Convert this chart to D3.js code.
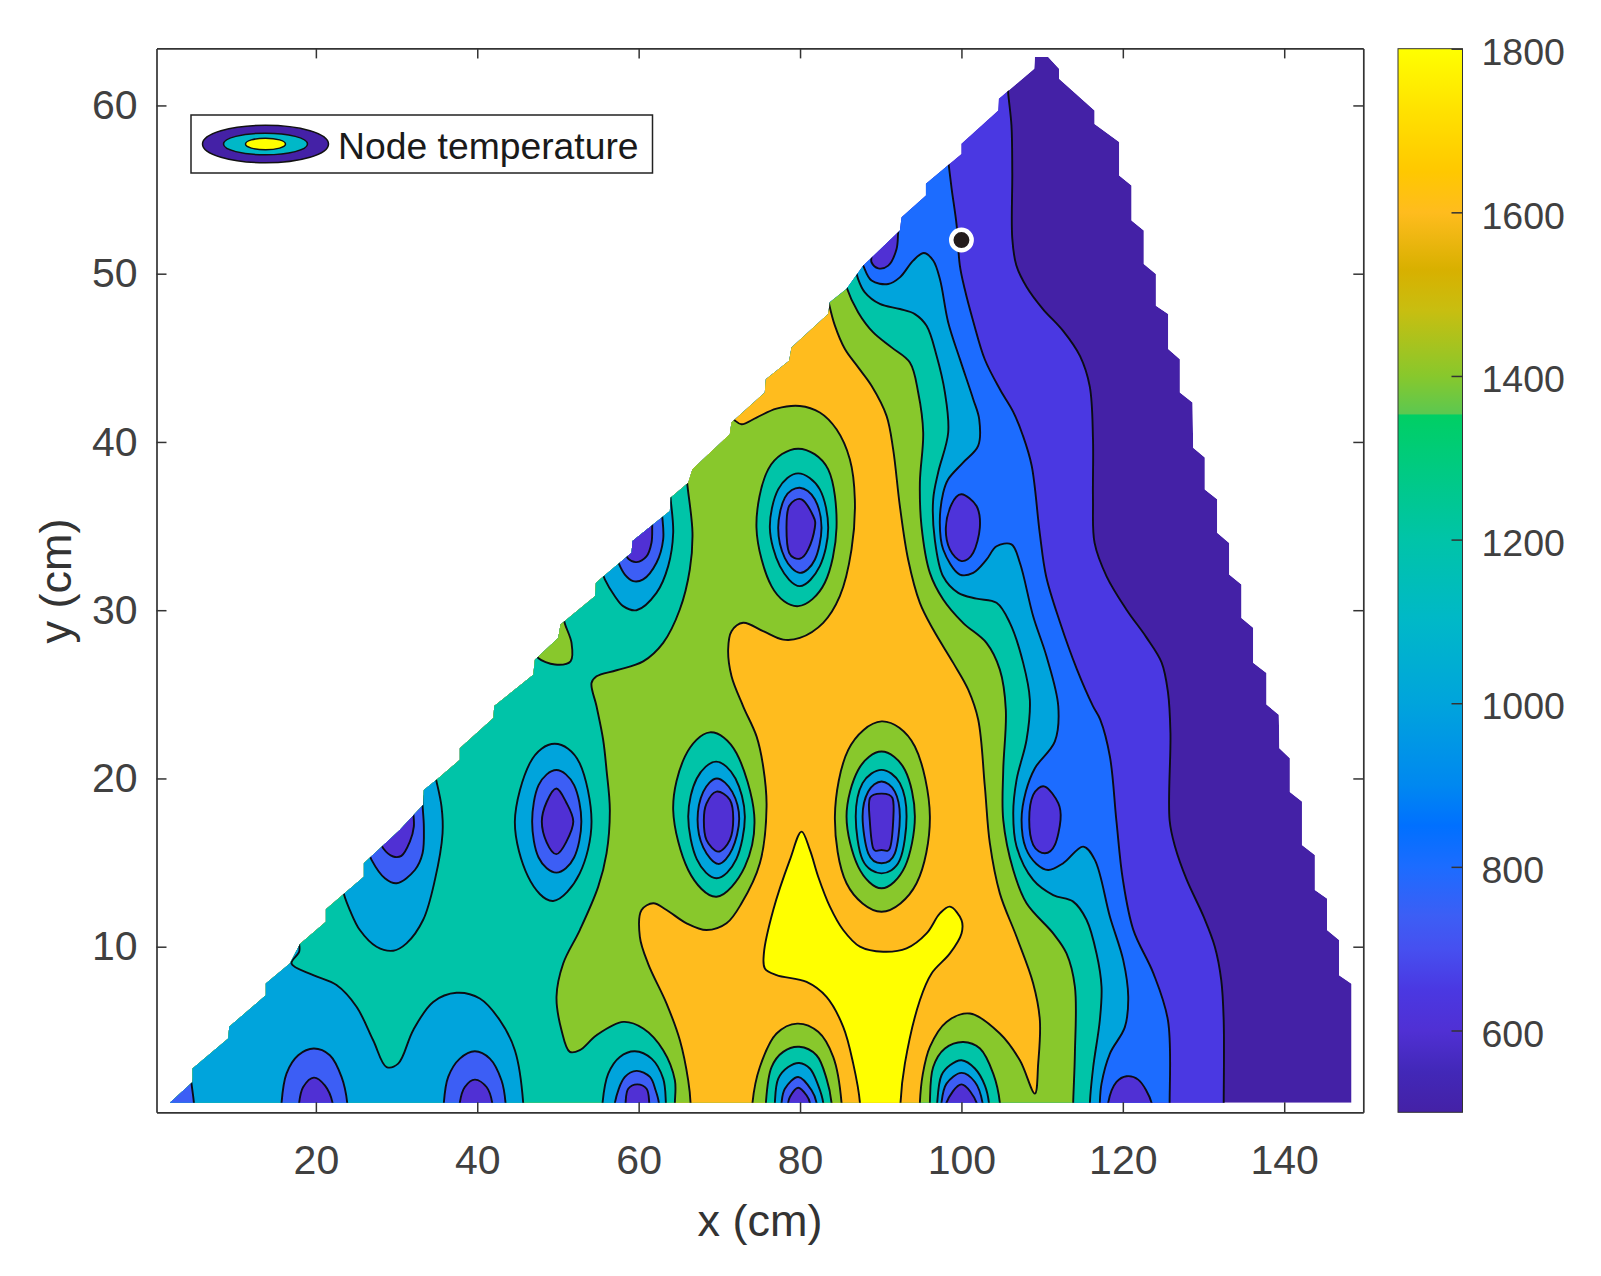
<!doctype html>
<html lang="en">
    <head>
        <title>Node temperature</title>
        <meta charset="utf-8">
        <style>
            body { margin: 0; background: #fff; }
            text { font-family: "Liberation Sans", Arial, sans-serif; }
        </style>
    </head>
    <body>
        <svg></svg>
        <script src="https://d3js.org/d3.v7.min.js"></script>
        <script>
            //Tick labels
            var xTicks = [20, 40, 60, 80, 100, 120, 140];
            var yTicks = [10, 20, 30, 40, 50, 60];
            var barTicks = [600, 800, 1000, 1200, 1400, 1600, 1800];

            //Colour bar, temperature -> colour
            var barTemps = [500, 550, 600, 650, 700, 740, 800, 850, 900, 1000, 1100, 1200, 1352, 1354, 1400, 1480, 1530, 1600, 1650, 1720, 1800];
            var barColors = ["#4421a6", "#4228b8", "#5030d4", "#4a38e2", "#4650f0", "#3c5ef5", "#1c6cff", "#0070ff", "#0088f0", "#00a4dc", "#00b8c8", "#00c4a8", "#00cf64", "#5cc850", "#88c82c", "#c8be10", "#d8b000", "#ffbc1e", "#ffc800", "#ffe000", "#ffff00"];

            //Outline of the meshed area in cm (stair steps of the mesh)
            var meshOutline = [[1.91,0.73],[4.72,1.96],[4.72,2.76],[9.14,4.54],[9.26,5.24],[13.8,7.12],[13.8,7.82],[16.78,9],[18.02,10.16],[21.24,11.49],[21.24,12.22],[25.95,14.16],[25.95,14.96],[30.4,16.94],[33.3,18.43],[33.38,19.32],[34.95,19.92],[37.84,21.11],[37.84,21.8],[42,23.6],[42.1,24.3],[46.94,26.17],[47.14,27.06],[50.03,28.35],[50.32,29.15],[54.58,30.83],[54.7,31.63],[59.12,33.41],[59.24,34.11],[63.87,35.89],[63.95,36.69],[66.14,37.58],[66.67,38.37],[71.3,40.46],[71.5,41.15],[75.63,42.94],[75.76,43.73],[78.65,44.82],[78.94,45.62],[83.48,47.6],[83.69,48.3],[85.75,49.09],[87.83,50.48],[92.37,52.56],[92.58,53.36],[95.6,54.65],[95.6,55.34],[100,57.12],[100,57.72],[104.56,59.7],[104.64,60.4],[109.02,62.18],[109.1,62.88],[110.75,62.88],[112.1,62.18],[112.1,61.59],[116.5,59.7],[116.5,58.9],[119.55,57.82],[119.55,55.84],[121.08,55.24],[121.08,53.16],[122.6,52.56],[122.6,50.58],[124.1,49.98],[124.1,48.1],[125.62,47.6],[125.62,45.52],[127.07,44.92],[127.07,42.94],[128.64,42.34],[128.72,39.66],[130.16,39.07],[130.16,37.18],[131.69,36.59],[131.69,34.6],[133.18,34],[133.18,32.12],[134.7,31.53],[134.7,29.54],[136.15,28.95],[136.15,26.87],[137.8,26.27],[137.8,24.39],[139.33,23.79],[139.4,21.8],[140.7,21.2],[140.7,19.2],[142.2,18.63],[142.2,16.05],[143.8,15.45],[143.8,13.37],[145.3,12.87],[145.3,10.99],[146.8,10.4],[146.8,8.31],[148.34,7.8],[148.34,0.73]];

            var line500 = [[105.7,61.5],[105.8,60.7],[106.2,58.8],[106.3,56],[106.3,52.1],[106.8,50.5],[108.1,49.2],[110.1,47.9],[112.6,46.6],[114.7,45.1],[115.9,43.3],[116.3,40.2],[116.3,36.6],[116.5,34],[118,32],[120.5,30],[122.9,28.4],[124.8,26.9],[125.6,25.1],[125.9,22.7],[125.8,17.5],[126.5,15.9],[127.9,14],[130,11.8],[131.4,10],[132.2,8],[132.5,5.6],[132.5,0.7],[132.5,0]];
            var line800 = [[98.3,57],[98.44,56.4],[98.8,55],[99.4,52.9],[99.8,50.5],[100.4,49.1],[101.5,47.1],[102.9,44.9],[104.8,43.1],[106.4,41.8],[107.6,40.4],[108.7,38.6],[109.7,34.6],[110.5,32],[112.2,29.3],[114.3,26.5],[116.3,24.3],[117.2,23.5],[118.4,21.3],[119.2,17.5],[120,14],[121.3,11],[123.8,8.4],[125.6,5.6],[125.8,0.7],[125.8,0]];
            var line1000 = [[87.4,51],[87.83,50.48],[88.86,49.59],[90.93,49.39],[92.37,49.78],[94.02,50.78],[95.35,51.23],[96.5,50.78],[97.33,49.68],[98.36,47.1],[99.81,44.92],[101.46,42.54],[102.2,41.35],[102.07,39.76],[100.2,38.77],[98.36,37.78],[97.74,36.98],[97.32,35.2],[97.74,33.61],[99.8,32.12],[101.46,32.22],[103.1,33],[104.35,33.8],[106.2,33.91],[107.24,32.82],[108.89,29.64],[110.54,27.26],[112,24.29],[111.58,22.2],[109.1,20.61],[107.98,19.22],[107.45,17.54],[107.98,15.85],[109.3,14.92],[110.75,14.56],[112.61,14.96],[115.09,15.95],[116.53,15.16],[118.4,11.78],[120.05,9.2],[120.67,7.02],[120.25,5.22],[118.4,3.65],[117.36,1.86],[117.15,0.73],[117.15,0]];
            var line1200 = [[86.8,50.5],[87.2,49.68],[88.03,48.89],[89.89,48.2],[92.37,47.9],[94.23,47.6],[95.68,46.9],[96.92,45.12],[97.95,42.94],[98.36,40.56],[97.12,38.2],[96.5,36.59],[96.7,34.2],[97.74,32],[99.6,31.03],[101.87,30.69],[104.35,30.44],[106,29.25],[107.65,26.87],[108.48,24.68],[108.07,22.3],[106.83,19.92],[106.42,17.93],[106.83,15.95],[108.89,13.97],[111.37,13.07],[113.85,12.68],[115.5,11.6],[116.74,9.6],[117.36,7.62],[117.15,5.63],[116.33,2.85],[115.92,0.73],[115.92,0]];
            var line1400 = [[85.4,50],[85.76,49.19],[87.21,47.7],[89.07,46.51],[91.34,45.62],[93.61,44.72],[94.64,42.94],[95.26,40.56],[94.85,37.58],[95.05,35],[96.09,32.22],[97.74,30.64],[100.2,29.25],[103.1,28.06],[104.76,26.47],[105.5,24.09],[105.18,20.5],[105.18,17.54],[106.42,14.56],[108.07,12.58],[111.37,10.79],[113.02,9.6],[114.06,7.62],[114.06,3.65],[113.85,0.73],[113.85,0]];
            var line1600 = [[83.3,49],[83.6,48.2],[84.32,46.91],[85.56,45.52],[87.21,44.43],[88.86,43.34],[90.72,41.55],[91.54,39.56],[92.37,36.19],[93.4,33],[94.85,30.44],[96.5,28.85],[98.98,26.87],[100.84,25.28],[102.08,23.49],[102.9,19.52],[103.52,16.15],[104.76,13.17],[106.83,10.59],[108.89,7.82],[109.72,5.63],[109.51,3.05],[109.1,1.27],[107.24,3.25],[104.76,4.84],[101.05,6.03],[98.15,5.53],[96.09,4.05],[95.2,2.4],[94.85,0.73],[94.85,0]];
            var line1800 = [[87.42,0],[87.42,0.73],[86.59,3.05],[85.35,5.24],[83.28,7.02],[80.81,7.91],[77.09,8.31],[75.64,8.71],[75.52,9.6],[76.68,12.18],[78.74,15.16],[80.19,16.84],[81.22,15.75],[82.25,14.16],[83.7,12.38],[85.35,10.99],[87.42,10],[90.3,9.7],[93.2,9.9],[95.68,10.79],[97.33,11.98],[98.57,12.38],[100.01,11.58],[100.01,10.79],[98.57,9.6],[96.3,8.41],[94.85,6.82],[92.99,3.05],[92.45,0.73],[92.45,0]];
            var westGreen = [[71.2,41.6],[71.84,41.31],[72.75,41.05],[74.61,41.45],[77.08,41.98],[79.97,42.14],[82.45,41.75],[84.52,40.75],[86.17,38.97],[86.79,36.59],[86.38,33.61],[84.93,30.83],[82.87,29.25],[79.97,28.35],[77.91,28.25],[75.43,28.75],[72.95,29.25],[71.51,28.75],[71.09,27.66],[71.51,26.07],[72.95,24.29],[74.61,22.5],[75.43,20.71],[75.85,18.33],[75.02,14.96],[72.75,12.58],[70.89,11.39],[68.41,10.99],[65.94,11.39],[63.46,12.18],[61.81,12.58],[60.36,12.18],[60.15,10.59],[61.19,8.97],[63.46,6.62],[65.11,4.44],[66.14,2.06],[66.43,0.73],[66.43,0]];
            var westTeal = [[65.9,38.5],[66.01,37.58],[66.67,34.6],[66.34,32.42],[65.1,30.04],[63.04,28.06],[60.56,26.96],[57.26,26.43],[54.78,26.07],[54.16,25.67],[54.78,24.29],[55.6,22.3],[56.02,20.5],[56.43,18.13],[56.02,15.55],[54.99,13.57],[52.71,10.99],[50.65,9],[49.82,7.02],[50.44,5.04],[51.47,3.75],[52.71,3.85],[54.78,4.74],[58.09,5.53],[60.57,5.14],[63.04,3.85],[64.49,2.06],[64.49,0.73],[64.49,0]];
            var westBlue = [[17.7,10.8],[17.93,10.16],[17.93,9.7],[16.98,9],[19.67,8.31],[22.56,7.72],[25.04,6.43],[27.1,4.44],[28.76,2.85],[30.2,3.05],[32.06,5.04],[34.54,6.72],[37.43,7.26],[40.32,6.92],[42.8,5.63],[44.66,3.85],[45.69,0.73],[45.69,0]];
            var cornerTip = [[4.5,2.4],[4.59,1.86],[4.88,0.73],[4.88,0]];
            var edgeGreen = [[50.6,29.8],[50.85,29.21],[51.68,28.06],[51.56,26.96],[49.62,26.77],[47.55,27.16],[47.2,27.5]];

            //Dips cut by the slanted edge
            var dip30a = [[34.6,20.5],[34.95,19.82],[35.57,18.33],[35.7,16.74],[34.75,13.97],[33.3,11.6],[31.23,10.2],[29.58,9.76],[27.52,10],[25.45,10.99],[24.21,12.18],[23.47,13.13],[23.2,13.8]];
            var dip30b = [[33.2,19],[33.22,18.43],[33.38,17.14],[33.22,15.55],[32.27,14.56],[30,13.77],[28.55,14.07],[26.9,15.16],[26.4,15.8]];
            var dip30c = [[32,18.6],[32.06,18.03],[32.14,17.14],[31.65,16.25],[30.6,15.4],[29.58,15.36],[28.34,15.85],[27.8,16.5]];
            var dip60a = [[63.9,37.2],[63.95,36.69],[64.28,34.6],[63.66,32.62],[62.21,31.03],[59.74,30],[58.08,30.24],[57.05,30.83],[55.81,31.83],[55.4,32.4]];
            var dip60b = [[62.8,36.2],[62.92,35.6],[63.04,34.21],[62.21,32.82],[60.56,31.83],[59.32,31.73],[58.29,32.12],[57.59,32.72],[57.2,33.3]];
            var dip60c = [[61.7,35.7],[61.68,35.04],[61.59,34.01],[60.97,33.2],[59.74,32.86],[58.7,33.06],[58.3,33.6]];
            var dip90top = [[92.3,53],[92.16,52.46],[91.96,51.47],[90.93,50.48],[89.69,50.32],[88.86,50.68],[88.86,51.07],[88.8,51.6]];

            //Dips cut by the bottom edge
            var base20a = [[15.75,0],[15.75,0.73],[16.36,2.46],[17.81,3.55],[19.75,3.95],[21.73,3.55],[23.18,2.26],[23.88,0.73],[23.88,0]];
            var base20b = [[17.93,0],[17.93,0.73],[18.43,1.66],[19.75,2.22],[21.11,1.76],[22.06,0.73],[22.06,0]];
            var base40a = [[35.86,0],[35.86,0.73],[36.4,2.26],[37.84,3.35],[39.7,3.79],[41.56,3.35],[43,2.06],[43.5,0.73],[43.5,0]];
            var base40b = [[37.84,0],[37.84,0.73],[38.46,1.66],[39.7,2.1],[41.15,1.66],[41.85,0.73],[41.85,0]];
            var base60a = [[55.53,0],[55.53,0.73],[56.23,2.46],[57.67,3.45],[59.53,3.79],[61.6,3.35],[63.04,2.16],[63.37,0.73],[63.37,0]];
            var base60b = [[57.06,0],[57.06,0.73],[58.3,2.26],[59.74,2.62],[61.4,2.26],[62.1,1.47],[62.5,0.73],[62.5,0]];
            var base60c = [[58.38,0],[58.38,0.73],[58.71,1.56],[59.82,1.82],[60.98,1.56],[61.31,0.73],[61.31,0]];
            var base80a = [[74.11,0],[74.11,0.73],[75.02,2.85],[77.09,4.84],[79.65,5.43],[82.25,4.94],[84.11,3.45],[85.14,0.73],[85.14,0]];
            var base80b = [[75.77,0],[75.77,0.73],[76.47,2.85],[77.91,3.75],[79.9,4.05],[82.04,3.55],[83.28,2.16],[83.9,0.73],[83.9,0]];
            var base80c = [[76.88,0],[76.88,0.73],[77.3,2.16],[78.53,2.85],[79.9,3.09],[81.22,2.76],[82.25,1.76],[82.87,0.73],[82.87,0]];
            var base80d = [[77.71,0],[77.71,0.73],[78.12,1.56],[79.77,2.26],[81.43,1.47],[82.04,0.73],[82.04,0]];
            var base80e = [[78.53,0],[78.53,0.73],[78.74,1.07],[79.77,1.62],[80.8,1.17],[81.22,0.73],[81.22,0]];
            var base100a = [[96.09,0],[96.09,0.73],[96.5,2.85],[97.95,3.95],[100.22,4.34],[102.3,3.95],[103.94,2.46],[104.76,0.73],[104.76,0]];
            var base100b = [[97,0],[97,0.73],[97.53,2.36],[98.57,2.95],[100.01,3.25],[101.67,2.76],[102.9,1.76],[103.4,0.73],[103.4,0]];
            var base100c = [[97.53,0],[97.53,0.73],[98.15,1.86],[100.01,2.5],[101.67,1.96],[102.61,0.73],[102.61,0]];
            var base100d = [[98.15,0],[98.15,0.73],[100,1.82],[101.87,0.73],[101.87,0]];
            var base120 = [[118.19,0],[118.19,0.73],[119.22,1.96],[120.46,2.3],[121.9,2.1],[123.56,0.73],[123.56,0]];

            //Closed dips around the inner nodes
            var node50a = [[49.6,22.06],[52.7,20.9],[54.16,17.44],[52.7,14.36],[49.4,12.72],[46.3,14.16],[44.66,17.44],[46.5,20.9]];
            var node50b = [[49.8,20.5],[52,19.6],[52.9,17.44],[52,15.3],[49.8,14.4],[47.6,15.3],[46.8,17.44],[47.6,19.6]];
            var node50c = [[49.8,19.4],[51,18.6],[51.9,17.44],[51,16.2],[49.8,15.5],[48.6,16.2],[48,17.44],[48.6,18.6]];
            var node70a = [[68.83,22.74],[72.13,21.5],[74.32,17.84],[73.16,14.76],[69.65,12.97],[66.14,14.56],[64.28,18.13],[65.73,21.3]];
            var node70b = [[69.6,21],[72,20],[73.16,17.74],[72.1,15.2],[69.65,14.07],[67.2,15.2],[66.14,17.74],[67.2,20]];
            var node70c = [[69.7,20],[71.6,19.2],[72.46,17.6],[71.6,15.8],[69.86,14.92],[68,15.9],[67.3,17.54],[68,19.2]];
            var node70d = [[69.65,19.22],[71.3,18.73],[71.72,17.6],[71.3,16.35],[69.86,15.65],[68.4,16.35],[68.08,17.5],[68.4,18.5]];
            var node90a = [[90.1,23.39],[94.23,21.9],[96.09,17.74],[94.44,13.77],[90.1,12.08],[85.76,13.77],[84.32,17.74],[85.97,21.7]];
            var node90b = [[90.1,21.6],[93,20.5],[94.23,17.74],[93,14.76],[90.1,13.47],[87.2,14.76],[85.76,17.74],[87.2,20.5]];
            var node90c = [[90.1,20.51],[92.37,19.72],[93.2,17.74],[92.37,15.16],[90.1,14.36],[87.75,15.16],[86.9,17.74],[87.75,19.72]];
            var node90d = [[90.1,19.82],[91.75,19.22],[92.37,17.74],[91.75,15.55],[90.1,14.96],[88.45,15.55],[87.75,17.74],[88.45,19.22]];
            var node90e = [[90.1,19.1],[91.46,18.83],[91.54,17.44],[91.13,15.85],[90.1,15.75],[89.07,15.85],[88.65,17.44],[88.65,18.83]];
            var node80a = [[79.77,39.6],[83.49,38.37],[84.52,34.9],[83.07,31.63],[79.77,30.24],[76.46,31.43],[74.6,34.9],[76.05,38.37]];
            var node80b = [[79.77,38.13],[82.45,37.18],[83.49,34.9],[82.45,32.62],[79.97,31.43],[77.5,32.62],[76.26,34.9],[77.29,37.18]];
            var node80c = [[79.97,37.28],[81.83,36.59],[82.66,34.9],[81.83,33],[79.97,32.22],[78.12,33.1],[77.29,34.9],[78.12,36.69]];
            var node80d = [[80.18,36.59],[81.63,35.6],[81.83,34.9],[81.01,33.61],[79.97,33.06],[78.65,33.41],[78.32,34.9],[78.65,36.19]];
            var node100 = [[100.01,36.89],[101.87,36.19],[102.28,34.9],[101.46,33.41],[100.01,32.92],[98.56,33.61],[98.07,34.9],[98.77,36.29]];
            var node110 = [[110.34,19.52],[112,18.53],[112.28,17.54],[111.58,16.05],[110.34,15.55],[108.89,16.05],[108.4,17.54],[108.89,19.02]];

            //Measuring point
            var probe = [100, 52];

            //Ways to close a contour outside of the mesh
            var westSide = [[-5,0],[-5,66],[70,66]];
            var bottomLeft = [[-5,0],[-5,20],[10,20]];
            var corner = [[-5,0],[-5,3]];

            //Drawing order, outermost first. temp is the band colour on the bar
            var layers = [
                {temp: 650, pts: line500, off: westSide},
                {temp: 800, pts: line800, off: westSide},
                {temp: 1000, pts: line1000, off: westSide},
                {temp: 1200, pts: line1200, off: westSide},
                {temp: 1400, pts: line1400, off: westSide},
                {temp: 1600, pts: line1600, off: westSide},
                {temp: 1800, pts: line1800, off: []},
                {temp: 1400, pts: westGreen, off: westSide},
                {temp: 1200, pts: westTeal, off: westSide},
                {temp: 1000, pts: westBlue, off: bottomLeft},
                {temp: 740, pts: cornerTip, off: corner},
                {temp: 1400, pts: edgeGreen, off: []},
                {temp: 1000, pts: dip30a, off: []},
                {temp: 740, pts: dip30b, off: []},
                {temp: 600, pts: dip30c, off: []},
                {temp: 1000, pts: dip60a, off: []},
                {temp: 740, pts: dip60b, off: []},
                {temp: 600, pts: dip60c, off: []},
                {temp: 600, pts: dip90top, off: []},
                {temp: 740, pts: base20a, off: []},
                {temp: 600, pts: base20b, off: []},
                {temp: 740, pts: base40a, off: []},
                {temp: 600, pts: base40b, off: []},
                {temp: 1000, pts: base60a, off: []},
                {temp: 740, pts: base60b, off: []},
                {temp: 600, pts: base60c, off: []},
                {temp: 1400, pts: base80a, off: []},
                {temp: 1200, pts: base80b, off: []},
                {temp: 1000, pts: base80c, off: []},
                {temp: 740, pts: base80d, off: []},
                {temp: 600, pts: base80e, off: []},
                {temp: 1200, pts: base100a, off: []},
                {temp: 1000, pts: base100b, off: []},
                {temp: 740, pts: base100c, off: []},
                {temp: 600, pts: base100d, off: []},
                {temp: 600, pts: base120, off: []},
                {temp: 1000, pts: node50a, closed: true},
                {temp: 740, pts: node50b, closed: true},
                {temp: 600, pts: node50c, closed: true},
                {temp: 1200, pts: node70a, closed: true},
                {temp: 1000, pts: node70b, closed: true},
                {temp: 740, pts: node70c, closed: true},
                {temp: 600, pts: node70d, closed: true},
                {temp: 1400, pts: node90a, closed: true},
                {temp: 1200, pts: node90b, closed: true},
                {temp: 1000, pts: node90c, closed: true},
                {temp: 740, pts: node90d, closed: true},
                {temp: 600, pts: node90e, closed: true},
                {temp: 1200, pts: node80a, closed: true},
                {temp: 1000, pts: node80b, closed: true},
                {temp: 740, pts: node80c, closed: true},
                {temp: 600, pts: node80d, closed: true},
                {temp: 620, pts: node100, closed: true},
                {temp: 620, pts: node110, closed: true}
            ];

            //Define the main container size
            var svgWidth = 1601;
            var svgHeight = 1276;
            var left = 156.5, right = 1363.3, top_ = 48.4, bottom = 1112.3;
            var barLeft = 1398, barRight = 1462.5;

            var svg = d3.select("svg")
                .attr("width", svgWidth)
                .attr("height", svgHeight);

            var x = d3.scaleLinear().domain([0.25, 149.8]).range([left, right]);
            var y = d3.scaleLinear().domain([0.158, 63.39]).range([bottom, top_]);
            var barY = d3.scaleLinear().domain([500, 1800]).range([bottom, 48.7]);
            var color = d3.scaleLinear().domain(barTemps).range(barColors);

            var openLine = d3.line().x(function(d){ return x(d[0]); }).y(function(d){ return y(d[1]); }).curve(d3.curveCatmullRom.alpha(0.5));
            //Uniform spline keeps the small closed loops round
            var closedLine = d3.line().x(function(d){ return x(d[0]); }).y(function(d){ return y(d[1]); }).curve(d3.curveCatmullRomClosed.alpha(0));
            var straightLine = d3.line().x(function(d){ return x(d[0]); }).y(function(d){ return y(d[1]); });

            var defs = svg.append("defs");
            defs.append("clipPath").attr("id", "mesh")
                .append("path").attr("d", straightLine(meshOutline) + "Z");

            //Contour bands, all clipped to the mesh
            var plot = svg.append("g").attr("clip-path", "url(#mesh)");
            plot.append("path")
                .attr("d", straightLine(meshOutline) + "Z")
                .attr("fill", color(500));

            plot.append("g").selectAll("path")
                .data(layers)
                .join("path")
                .attr("fill", function(d){ return color(d.temp); })
                .attr("d", function(d){
                    if(d.closed){
                        return closedLine(d.pts);
                    }
                    var tail = d.off.map(function(p){ return "L" + x(p[0]) + "," + y(p[1]); }).join("");
                    return openLine(d.pts) + tail + "Z";
                });

            //Contour lines go on top of every band
            plot.append("g").selectAll("path")
                .data(layers)
                .join("path")
                .attr("fill", "none")
                .attr("stroke", "#0c0c14")
                .attr("stroke-width", 1.9)
                .attr("d", function(d){ return d.closed ? closedLine(d.pts) : openLine(d.pts); });

            //Measuring point
            svg.append("circle")
                .attr("cx", x(probe[0]))
                .attr("cy", y(probe[1]))
                .attr("r", 10.2)
                .attr("fill", "#241c1c")
                .attr("stroke", "#fff")
                .attr("stroke-width", 4.5);

            //Axes with the ticks pointing inwards, box on all four sides
            function styleAxis(g, size){
                g.selectAll("path").attr("stroke", "#333").attr("stroke-width", 1.7);
                g.selectAll("line").attr("stroke", "#333").attr("stroke-width", 1.5);
                g.selectAll("text").attr("fill", "#404040").attr("font-size", size).attr("font-family", null);
            }
            svg.append("g").attr("transform", "translate(0," + bottom + ")")
                .call(d3.axisBottom(x).tickValues(xTicks).tickSizeInner(-10).tickSizeOuter(0).tickPadding(33))
                .call(styleAxis, 41);
            svg.append("g").attr("transform", "translate(0," + top_ + ")")
                .call(d3.axisTop(x).tickValues(xTicks).tickSizeInner(-10).tickSizeOuter(0).tickFormat(""))
                .call(styleAxis, 41);
            svg.append("g").attr("transform", "translate(" + left + ",0)")
                .call(d3.axisLeft(y).tickValues(yTicks).tickSizeInner(-10).tickSizeOuter(0).tickPadding(19))
                .call(styleAxis, 41);
            svg.append("g").attr("transform", "translate(" + right + ",0)")
                .call(d3.axisRight(y).tickValues(yTicks).tickSizeInner(-10).tickSizeOuter(0).tickFormat(""))
                .call(styleAxis, 41);

            //Axis titles
            svg.append("text")
                .attr("x", (left + right) / 2)
                .attr("y", 1236)
                .attr("text-anchor", "middle")
                .attr("font-size", 45)
                .attr("fill", "#333")
                .text("x (cm)");
            svg.append("text")
                .attr("transform", "translate(71,581) rotate(-90)")
                .attr("text-anchor", "middle")
                .attr("font-size", 45)
                .attr("fill", "#333")
                .text("y (cm)");

            //Colour bar
            var gradient = defs.append("linearGradient").attr("id", "bar")
                .attr("x1", 0).attr("x2", 0).attr("y1", 1).attr("y2", 0);
            gradient.selectAll("stop")
                .data(barTemps)
                .join("stop")
                .attr("offset", function(d){ return (d - 500) / 1300; })
                .attr("stop-color", function(d){ return color(d); });
            svg.append("rect")
                .attr("x", barLeft)
                .attr("y", barY(1800))
                .attr("width", barRight - barLeft)
                .attr("height", barY(500) - barY(1800))
                .attr("fill", "url(#bar)")
                .attr("stroke", "#333")
                .attr("stroke-width", 1);
            svg.append("g").attr("transform", "translate(" + barRight + ",0)")
                .call(d3.axisRight(barY).tickValues(barTicks).tickFormat(d3.format("d")).tickSizeInner(-11).tickSizeOuter(0).tickPadding(19))
                .call(styleAxis, 37.5)
                .call(function(g){
                    g.select(".domain").remove();
                    g.selectAll("text").attr("dy", "0.42em");
                });

            //Legend
            var legend = svg.append("g");
            legend.append("rect")
                .attr("x", 191).attr("y", 115)
                .attr("width", 461.5).attr("height", 58)
                .attr("fill", "#fff")
                .attr("stroke", "#222")
                .attr("stroke-width", 1.5);
            var legendTemps = [500, 1100, 1800];
            var legendRx = [63, 42, 20];
            var legendRy = [18.8, 10.8, 5.8];
            legend.selectAll("ellipse")
                .data(legendTemps)
                .join("ellipse")
                .attr("cx", 265.5)
                .attr("cy", 144)
                .attr("rx", function(d, i){ return legendRx[i]; })
                .attr("ry", function(d, i){ return legendRy[i]; })
                .attr("fill", function(d){ return color(d); })
                .attr("stroke", "#111")
                .attr("stroke-width", 1.5);
            legend.append("text")
                .attr("x", 338)
                .attr("y", 159)
                .attr("font-size", 37.3)
                .attr("fill", "#1a1a1a")
                .text("Node temperature");
        </script>
    </body>
</html>
